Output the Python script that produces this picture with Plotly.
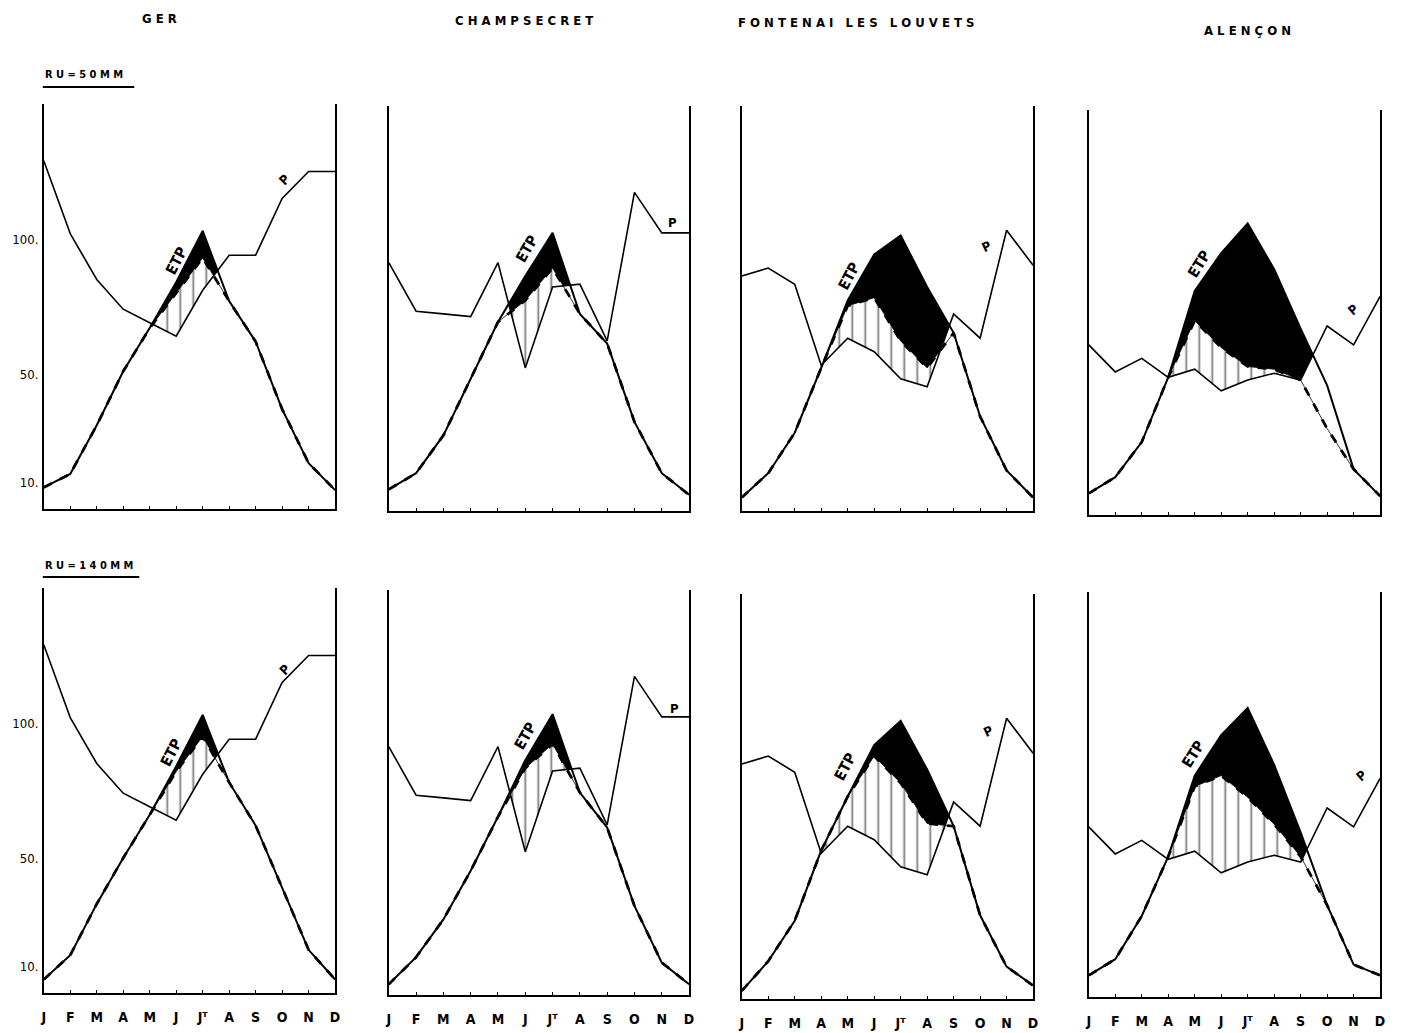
import plotly.graph_objects as go

# ---------------- data (mm / month) ----------------
MONTHS = ["J", "F", "M", "A", "M", "J", "J\u1d40", "A", "S", "O", "N", "D"]
STATIONS = ["GER", "CHAMPSECRET", "FONTENAI LES LOUVETS", "ALENÇON"]
ROW_LABELS = ["RU=50MM", "RU=140MM"]
Y_TICKS = [10, 50, 100]
Y_TICKTEXT = ["10.", "50.", "100."]

# precipitation P
P_GER = [129, 102, 85, 74, 69, 64, 81, 94, 94, 115, 125, 125]
P_CHAMP = [92, 74, 73, 72, 92, 53, 83, 84, 63, 118, 103, 103]
P_FONT = [87, 90, 84, 54, 64, 59, 49, 46, 73, 64, 104, 91]
P_ALEN = [63, 53, 58, 51, 54, 46, 50, 52.5, 50, 70, 63, 81]

# potential evapotranspiration ETP (as drawn in each row)
ETP50_GER = [8, 13, 31, 51, 67, 84, 103, 77, 62, 37, 17, 7]
ETP140_GER = [5, 14, 33, 50, 66, 84, 103, 78, 62, 39, 16, 5]
ETP50_CHAMP = [8, 14, 28, 49, 70, 87, 103, 73, 62, 33, 14, 6]
ETP140_CHAMP = [4, 14, 28, 46, 66, 87, 104, 75, 62, 33, 12, 4]
ETP50_FONT = [5, 14, 29, 53, 78, 95, 102, 83, 66, 35, 15, 5]
ETP140_FONT = [3, 14, 29, 55, 75, 94, 103, 85, 64, 31, 12, 5]
ETP50_ALEN = [8, 14, 27, 51, 83, 97, 108, 91, 69, 48, 17, 7]
ETP140_ALEN = [8, 14, 30, 52, 82, 97, 107, 86, 61, 34, 12, 8]

# actual evapotranspiration ETR (dashed)
ETR50_GER = [8, 13, 31, 51, 67, 80, 93, 77, 62, 37, 17, 7]
ETR140_GER = [5, 14, 33, 50, 66, 82, 95, 78, 62, 39, 16, 5]
ETR50_CHAMP = [8, 14, 28, 49, 70, 78, 90, 73, 62, 33, 14, 6]
ETR140_CHAMP = [4, 14, 28, 46, 66, 84, 93, 75, 62, 33, 12, 4]
ETR50_FONT = [5, 14, 29, 53, 76, 79, 63, 53, 66, 35, 15, 5]
ETR140_FONT = [3, 14, 29, 55, 75, 90, 80, 65, 64, 31, 12, 5]
ETR50_ALEN = [8, 14, 27, 51, 72, 62, 55, 54, 50, 32, 17, 7]
ETR140_ALEN = [8, 14, 30, 52, 78, 82, 74, 64, 52, 34, 12, 8]

PANELS = [
    [(P_GER, ETP50_GER, ETR50_GER), (P_CHAMP, ETP50_CHAMP, ETR50_CHAMP),
     (P_FONT, ETP50_FONT, ETR50_FONT), (P_ALEN, ETP50_ALEN, ETR50_ALEN)],
    [(P_GER, ETP140_GER, ETR140_GER), (P_CHAMP, ETP140_CHAMP, ETR140_CHAMP),
     (P_FONT, ETP140_FONT, ETR140_FONT), (P_ALEN, ETP140_ALEN, ETR140_ALEN)],
]

# ---------------- layout geometry (pixels) ----------------
W, H = 1401, 1033
COL_LEFT = [41, 388, 743, 1092]
COL_RIGHT = [334, 690, 1036, 1385]
ROW_ZERO = [[509, 511, 511, 515], [993, 995, 999, 997]]
PX_PER_UNIT = 2.7
YMAX = 150
X = list(range(12))

# label positions in data units (month index, mm) and angles
ETP_LABEL = [[(5.0, 92, -63), (5.06, 97, -60), (4.06, 87, -62), (4.17, 93, -58)],
             [(4.8, 89, -63), (5.0, 96, -60), (3.9, 86, -62), (3.95, 90, -58)]]
P_LABEL = [[(9.1, 122, -45), (10.4, 107, 0), (9.25, 98, -25), (10.0, 76, -40)],
           [(9.1, 120, -45), (10.45, 106, 0), (9.3, 99, -25), (10.3, 82, -40)]]

FONT = "DejaVu Sans Condensed, Liberation Sans Narrow, DejaVu Sans, sans-serif"


def fx(p):
    return p / W


def fy(p):
    return 1 - p / H


def breakpoints(xs, series):
    """month points plus every crossing of the drawn straight segments"""
    out = []
    n = len(xs)
    for i in range(n - 1):
        ts = {0.0}
        for a in range(len(series)):
            for b in range(a + 1, len(series)):
                d0 = series[a][i] - series[b][i]
                d1 = series[a][i + 1] - series[b][i + 1]
                if d0 * d1 < 0:
                    ts.add(d0 / (d0 - d1))
        for t in sorted(ts):
            out.append((xs[i] + t * (xs[i + 1] - xs[i]),
                        [s[i] + t * (s[i + 1] - s[i]) for s in series]))
    out.append((xs[-1], [s[-1] for s in series]))
    return out


fig = go.Figure()
layout = dict(
    width=W, height=H, margin=dict(l=0, r=0, t=0, b=0),
    paper_bgcolor="white", plot_bgcolor="white", showlegend=False,
    font=dict(family=FONT, color="black", size=12),
)
annotations = []
shapes = []

k = 0
for r in range(2):
    for c in range(4):
        k += 1
        xa = "x" if k == 1 else f"x{k}"
        ya = "y" if k == 1 else f"y{k}"
        zero = ROW_ZERO[r][c]
        top = zero - YMAX * PX_PER_UNIT
        layout["xaxis" if k == 1 else f"xaxis{k}"] = dict(
            domain=[fx(COL_LEFT[c]), fx(COL_RIGHT[c])], range=[0, 11], anchor=ya,
            showline=True, linecolor="black", linewidth=1.6, showgrid=False, zeroline=False,
            ticks="inside", ticklen=3, tickwidth=1, tickcolor="black",
            tickvals=X, ticktext=MONTHS, showticklabels=(r == 1),
            tickfont=dict(family=FONT, size=14, color="black", weight="bold"),
            ticklabelstandoff=10, fixedrange=True,
        )
        layout["yaxis" if k == 1 else f"yaxis{k}"] = dict(
            domain=[fy(zero), fy(top)], range=[0, YMAX], anchor=xa,
            showline=True, mirror=True, linecolor="black", linewidth=1.6,
            showgrid=False, zeroline=False, ticks="",
            tickvals=Y_TICKS, ticktext=Y_TICKTEXT, showticklabels=(c == 0),
            tickfont=dict(family=FONT, size=13, color="black"), ticklabelstandoff=1,
            fixedrange=True,
        )

        P, ETP, ETR = PANELS[r][c]
        pts = breakpoints(X, [ETP, ETR, P])
        bx = [p[0] for p in pts]
        hatch_top = [v[1] for _, v in pts]
        hatch_bot = [min(v[2], v[1]) for _, v in pts]
        black_top = [v[0] for _, v in pts]
        black_bot = [min(v[0], max(v[1], v[2])) for _, v in pts]

        # soil-water use (hatched): between P and ETR
        fig.add_trace(go.Scatter(x=bx, y=hatch_bot, mode="lines", line=dict(width=0),
                                 xaxis=xa, yaxis=ya, hoverinfo="skip"))
        fig.add_trace(go.Scatter(x=bx, y=hatch_top, mode="lines", line=dict(width=0.8, color="black"),
                                 fill="tonexty", fillcolor="white",
                                 fillpattern=dict(shape="|", size=13, solidity=0.14,
                                                  fgcolor="black", bgcolor="white"),
                                 xaxis=xa, yaxis=ya, hoverinfo="skip"))
        # deficit (black): between ETR and ETP
        fig.add_trace(go.Scatter(x=bx, y=black_bot, mode="lines", line=dict(width=0),
                                 xaxis=xa, yaxis=ya, hoverinfo="skip"))
        fig.add_trace(go.Scatter(x=bx, y=black_top, mode="lines", line=dict(width=0),
                                 fill="tonexty", fillcolor="black",
                                 xaxis=xa, yaxis=ya, hoverinfo="skip"))
        # curves
        fig.add_trace(go.Scatter(x=X, y=P, mode="lines", line=dict(color="black", width=1.6),
                                 xaxis=xa, yaxis=ya, name="P"))
        fig.add_trace(go.Scatter(x=X, y=ETP, mode="lines", line=dict(color="black", width=2),
                                 xaxis=xa, yaxis=ya, name="ETP"))
        fig.add_trace(go.Scatter(x=X, y=ETR, mode="lines",
                                 line=dict(color="black", width=2.8, dash="dash"),
                                 xaxis=xa, yaxis=ya, name="ETR"))

        ex, ey, ea = ETP_LABEL[r][c]
        annotations.append(dict(x=ex, y=ey, xref=xa, yref=ya, text="ETP", showarrow=False,
                                textangle=ea,
                                font=dict(family=FONT, size=15, color="black", weight="bold")))
        px_, py_, pa = P_LABEL[r][c]
        annotations.append(dict(x=px_, y=py_, xref=xa, yref=ya, text="P", showarrow=False,
                                textangle=pa,
                                font=dict(family=FONT, size=13, color="black", weight="bold")))

# station titles
TITLE_POS = [(157, 18), (524, 20), (858, 23), (1252, 30)]
for name, (tx, ty) in zip(STATIONS, TITLE_POS):
    annotations.append(dict(x=fx(tx), y=fy(ty), xref="paper", yref="paper",
                            text=" ".join(name), showarrow=False,
                            xanchor="center", yanchor="middle",
                            font=dict(family=FONT, size=13, color="black", weight="bold")))

# row labels (underlined)
ROW_POS = [(40, 75, 132, 87), (40, 565, 137, 577)]
for lab, (lx, ly, ux, uy) in zip(ROW_LABELS, ROW_POS):
    annotations.append(dict(x=fx(lx), y=fy(ly), xref="paper", yref="paper",
                            text=" ".join(lab), showarrow=False,
                            xanchor="left", yanchor="middle",
                            font=dict(family=FONT, size=11, color="black", weight="bold")))
    shapes.append(dict(type="line", xref="paper", yref="paper",
                       x0=fx(lx), x1=fx(ux), y0=fy(uy), y1=fy(uy),
                       line=dict(color="black", width=1.8)))

layout["annotations"] = annotations
layout["shapes"] = shapes
fig.update_layout(**layout)

fig.write_html("out.html", config={"displayModeBar": False},
               post_script="document.body.style.margin='0';document.body.style.overflow='hidden';")
